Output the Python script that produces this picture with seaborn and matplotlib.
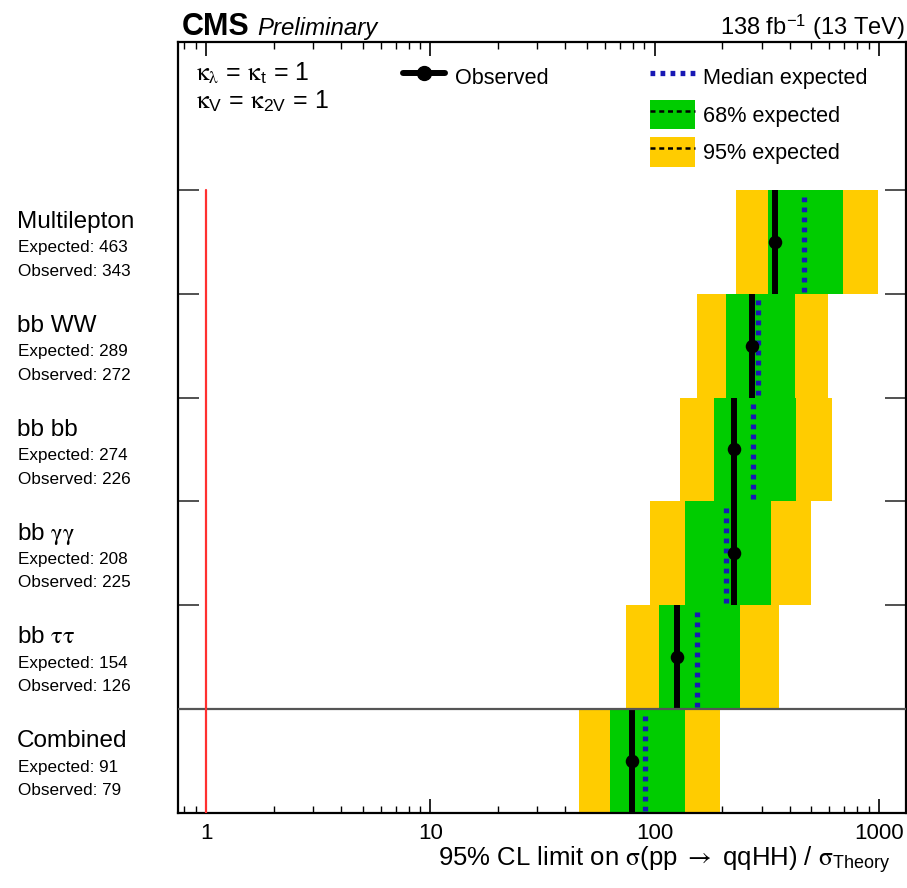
import numpy as np
import matplotlib
matplotlib.use("Agg")
import matplotlib.pyplot as plt
import seaborn as sns
import pandas as pd
from matplotlib.lines import Line2D
from matplotlib.patches import Patch
from matplotlib.legend_handler import HandlerTuple
from matplotlib.ticker import FixedLocator, NullFormatter

# ---------------- data ----------------
categories = ["Combined", "bb $\\mathrm{\\tau\\tau}$", "bb $\\mathrm{\\gamma\\gamma}$",
              "bb bb", "bb WW", "Multilepton"]
expected = [91, 154, 208, 274, 289, 463]
observed = [79, 126, 225, 226, 272, 343]
lo95 = [46, 74.5, 95.3, 130, 154.5, 230]
lo68 = [63.3, 104.6, 137, 184, 208, 320]
hi68 = [137, 240, 330, 427, 423, 692]
hi95 = [196, 359, 498, 618, 593, 990]
xticks = [1, 10, 100, 1000]
xtick_labels = ["1", "10", "100", "1000"]

df = pd.DataFrame({"cat": categories, "exp": expected, "obs": observed,
                   "lo95": lo95, "lo68": lo68, "hi68": hi68, "hi95": hi95})
df["row"] = np.arange(len(df))
df["yc"] = df["row"] + 0.5

# ---------------- style ----------------
sns.set_theme(style="ticks")
plt.rcParams["font.family"] = ["Liberation Sans", "DejaVu Sans"]
plt.rcParams["mathtext.fontset"] = "custom"
plt.rcParams["mathtext.rm"] = "STIXGeneral"
plt.rcParams["mathtext.it"] = "STIXGeneral:italic"
plt.rcParams["mathtext.bf"] = "STIXGeneral:bold"
plt.rcParams["mathtext.sf"] = "Liberation Sans"
plt.rcParams["text.color"] = "black"
plt.rcParams["xtick.color"] = "black"
plt.rcParams["ytick.color"] = "black"
plt.rcParams["xtick.labelcolor"] = "black"

GREEN = "#00cc00"
YELLOW = "#ffcc00"
BLUE = "#1818b4"

W, H = 907, 888
fig = plt.figure(figsize=(W / 100, H / 100), dpi=100)
ax = fig.add_axes([178 / W, 75 / H, 728 / W, 771 / H])
ax.set_xscale("log")
ax.set_xlim(0.75, 1320)
ax.set_ylim(0, 7.423)

# bands
ax.barh(df["yc"], df["hi95"] - df["lo95"], left=df["lo95"], height=1.0,
        color=YELLOW, linewidth=0, zorder=1)
ax.barh(df["yc"], df["hi68"] - df["lo68"], left=df["lo68"], height=1.0,
        color=GREEN, linewidth=0, zorder=2)

# median expected (dotted blue)
for _, r in df.iterrows():
    ax.plot([r["exp"], r["exp"]], [r["row"] + 0.02, r["row"] + 0.98], color=BLUE,
            lw=3.8, linestyle=(0, (0.9, 1.0)), solid_capstyle="butt",
            dash_capstyle="butt", zorder=3)
# observed line
for _, r in df.iterrows():
    ax.plot([r["obs"], r["obs"]], [r["row"], r["row"] + 1], color="black",
            lw=4.3, solid_capstyle="butt", zorder=4)
sns.scatterplot(data=df, x="obs", y="yc", ax=ax, color="black", s=95,
                edgecolor="black", linewidth=0, zorder=5, legend=False)

# separator and red reference line
ax.axhline(1, color="#555555", lw=1.6, zorder=6)
ax.plot([1, 1], [0, 6], color="#ff3030", lw=1.6, zorder=6)

# ticks
ax.xaxis.set_major_locator(FixedLocator(xticks))
ax.set_xticklabels(xtick_labels)
minor = [m * 10 ** e for e in range(-1, 4) for m in range(2, 10)]
ax.xaxis.set_minor_locator(FixedLocator([v for v in minor if 0.75 < v < 1320]))
ax.xaxis.set_minor_formatter(NullFormatter())
ax.tick_params(axis="x", which="major", direction="in", length=10, width=1.2,
               top=True, bottom=True, labelsize=16, pad=7, color="black")
ax.tick_params(axis="x", which="minor", direction="in", length=5, width=1.0,
               top=True, bottom=True, color="black")
ax.set_yticks([1, 2, 3, 4, 5, 6])
ax.set_yticklabels([])
ax.yaxis.set_minor_locator(FixedLocator([]))
ax.tick_params(axis="y", which="major", direction="in", length=15, width=1.2,
               left=True, right=True, color="#333333")
for s in ax.spines.values():
    s.set_linewidth(1.6)
    s.set_color("black")
ax.set_xlabel("")
ax.set_ylabel("")

# category labels
tr = matplotlib.transforms.blended_transform_factory(fig.transFigure, ax.transData)
for _, r in df.iterrows():
    ax.text(17 / W, r["yc"] + 0.19, r["cat"], transform=tr, fontsize=17.5,
            ha="left", va="center")
    ax.text(18 / W, r["yc"] - 0.06, f"Expected: {r['exp']}", transform=tr,
            fontsize=12.3, ha="left", va="center")
    ax.text(18 / W, r["yc"] - 0.285, f"Observed: {r['obs']}", transform=tr,
            fontsize=12.3, ha="left", va="center")

# header texts
fig.text(182 / W, 1 - 35 / H, "CMS", fontsize=22, fontweight="bold", ha="left",
         va="baseline")
fig.text(257 / W, 1 - 35 / H, "Preliminary", fontsize=17.3, style="italic",
         ha="left", va="baseline")
fig.text(905 / W, 1 - 35 / H, "138 fb$^{\\mathsf{-1}}$ (13 TeV)", fontsize=17,
         ha="right", va="baseline")

fig.text(196 / W, 1 - 73 / H,
         "$\\mathrm{\\kappa_{\\lambda}}$ = $\\mathrm{\\kappa}_{\\mathsf{t}}$ = 1",
         fontsize=18, ha="left", va="center")
fig.text(196 / W, 1 - 101 / H,
         "$\\mathrm{\\kappa}_{\\mathsf{V}}$ = $\\mathrm{\\kappa}_{\\mathsf{2V}}$ = 1",
         fontsize=18, ha="left", va="center")

# x label
fig.text(891 / W, 1 - 866 / H,
         "95% CL limit on $\\mathrm{\\sigma}$(pp $\\rightarrow$ qqHH) / "
         "$\\mathrm{\\sigma}_{\\mathsf{Theory}}$",
         fontsize=18.5, ha="right", va="baseline")

# legends
fs = 15.6
obs_handle = Line2D([], [], color="black", lw=4.3, marker="o", markersize=10)
leg1 = ax.legend([obs_handle], ["Observed"], loc="upper left",
                 bbox_to_anchor=(403 / W, 1 - 62 / H), bbox_transform=fig.transFigure,
                 frameon=False, fontsize=fs, handlelength=1.95, handleheight=1.75,
                 handletextpad=0.45, borderpad=0, borderaxespad=0, numpoints=1)
ax.add_artist(leg1)

med_handle = Line2D([], [], color=BLUE, lw=3.8, linestyle=(0, (0.9, 1.0)))
dash = Line2D([], [], color="black", lw=1.8, linestyle=(0, (2.0, 1.5)))
h68 = (Patch(facecolor=GREEN, edgecolor="none"), dash)
h95 = (Patch(facecolor=YELLOW, edgecolor="none"), dash)
ax.legend([med_handle, h68, h95], ["Median expected", "68% expected", "95% expected"],
          handler_map={tuple: HandlerTuple(ndivide=1)},
          loc="upper left", bbox_to_anchor=(650 / W, 1 - 62 / H),
          bbox_transform=fig.transFigure, frameon=False, fontsize=fs,
          handlelength=2.07, handleheight=1.75, handletextpad=0.37,
          labelspacing=0.35, borderpad=0, borderaxespad=0)

fig.savefig("out.png", dpi=100)
